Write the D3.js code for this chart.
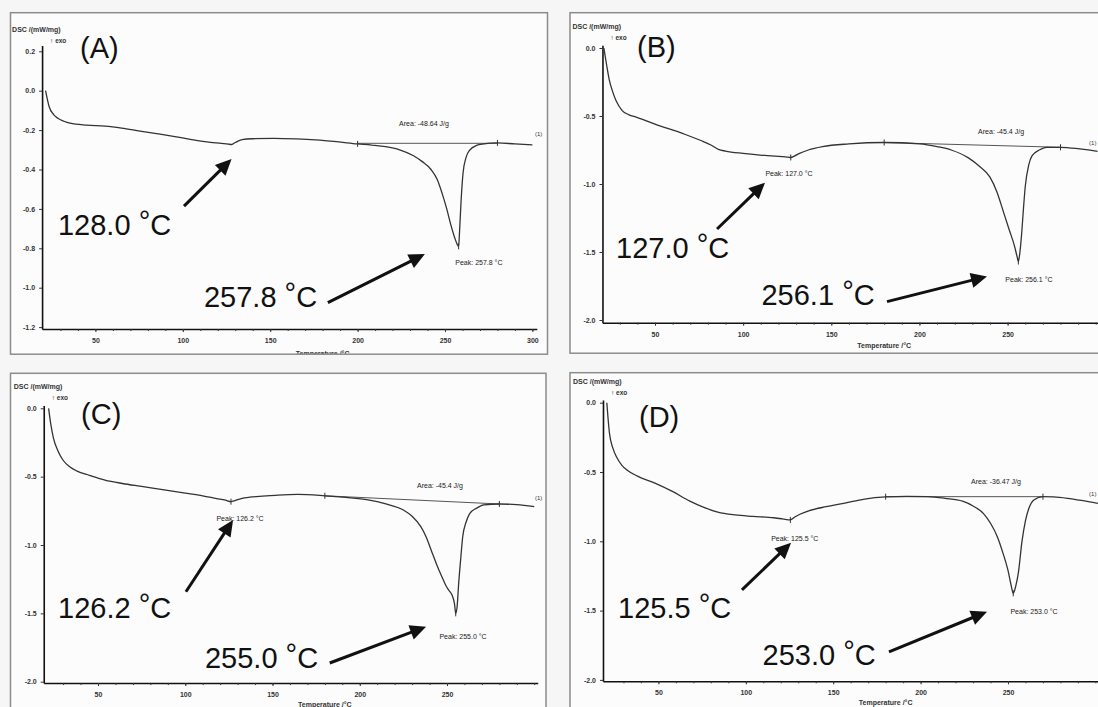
<!DOCTYPE html>
<html>
<head>
<meta charset="utf-8">
<script src="https://cdn.jsdelivr.net/npm/d3@7"></script>
<style>
  body { margin: 0; background: #f6f6f6; }
  svg { display: block; }
  text { font-family: "Liberation Sans", Arial, sans-serif; }
</style>
</head>
<body>
<svg id="chart" width="1098" height="707"></svg>
<script>
// ---- data ----
const tempA = [21.5, 23.5, 26, 28.5, 32, 35.5, 45, 55.5, 65, 75.5, 85, 95.5, 105, 115.8, 122, 126, 128, 130, 133.9, 140, 152, 165, 176, 188, 200, 208, 216, 224, 232, 237, 242, 245.5, 248.3, 251, 253.3, 255.5, 257, 257.8, 258.3, 259.2, 260.3, 262, 264.3, 268, 272.4, 276, 280, 290, 300];
const dscA = [0.0, -0.08, -0.12, -0.14, -0.155, -0.165, -0.175, -0.18, -0.19, -0.205, -0.218, -0.233, -0.248, -0.262, -0.267, -0.271, -0.273, -0.263, -0.248, -0.244, -0.242, -0.245, -0.25, -0.259, -0.27, -0.276, -0.284, -0.3, -0.33, -0.36, -0.4, -0.45, -0.52, -0.6, -0.68, -0.745, -0.78, -0.79, -0.72, -0.56, -0.42, -0.34, -0.3, -0.278, -0.27, -0.266, -0.265, -0.27, -0.275];

const tempB = [21, 22.5, 24, 25.7, 28, 31.4, 35, 39.7, 50, 66, 76, 82, 86, 90, 100, 109.6, 118, 124, 127, 129, 132, 137, 145, 160, 180, 200, 210, 218, 228, 234, 240, 244, 248, 251, 254, 255.3, 256.1, 257, 258, 259, 260, 262, 264, 268, 272, 280, 290, 301];
const dscB = [0.0, -0.12, -0.23, -0.31, -0.39, -0.46, -0.49, -0.51, -0.56, -0.63, -0.68, -0.715, -0.745, -0.758, -0.775, -0.787, -0.795, -0.8, -0.805, -0.795, -0.775, -0.75, -0.725, -0.705, -0.695, -0.705, -0.725, -0.75, -0.81, -0.87, -0.95, -1.06, -1.22, -1.34, -1.46, -1.53, -1.57, -1.5, -1.36, -1.18, -1.02, -0.86, -0.79, -0.75, -0.73, -0.73, -0.74, -0.76];

const tempC = [21.7, 23, 24.5, 27, 30, 34, 38, 45, 54, 64, 74, 87, 100, 110, 118, 123, 126.2, 128.5, 132, 137, 142.6, 153, 164.6, 180, 192, 204.7, 215, 225, 230, 235, 238, 241, 244, 247, 249.5, 251, 253, 254.3, 255, 255.8, 256.7, 258, 259, 261, 263, 267, 271, 280, 290, 300];
const dscC = [0.0, -0.12, -0.22, -0.31, -0.38, -0.43, -0.46, -0.49, -0.525, -0.55, -0.57, -0.595, -0.62, -0.64, -0.66, -0.672, -0.683, -0.675, -0.66, -0.65, -0.645, -0.635, -0.63, -0.64, -0.652, -0.67, -0.7, -0.744, -0.79, -0.866, -0.94, -1.04, -1.14, -1.23, -1.3, -1.33, -1.37, -1.43, -1.5, -1.45, -1.28, -1.08, -0.94, -0.83, -0.77, -0.73, -0.707, -0.7, -0.705, -0.72];

const tempD = [20.5, 22, 24, 26, 29, 32, 38, 48, 58, 68, 76, 84, 94, 104, 116, 121, 125.5, 128, 131, 136, 146, 156, 168, 180, 192, 204, 214, 224, 230, 236, 240, 244, 247, 250, 252, 253, 254.5, 256, 258, 260, 262, 265, 270, 276, 284, 292, 301.5];
const dscD = [0.0, -0.22, -0.33, -0.39, -0.45, -0.485, -0.53, -0.58, -0.64, -0.71, -0.755, -0.79, -0.81, -0.82, -0.83, -0.838, -0.846, -0.825, -0.805, -0.78, -0.75, -0.726, -0.695, -0.68, -0.676, -0.678, -0.69, -0.71, -0.745, -0.8, -0.87, -0.97, -1.08, -1.21, -1.33, -1.375, -1.32, -1.22, -1.0, -0.85, -0.76, -0.7, -0.678, -0.68, -0.69, -0.705, -0.726];

const xTicksA = [50, 100, 150, 200, 250, 300];
const xTicksBCD = [50, 100, 150, 200, 250];
const yTicksA = [0.2, 0.0, -0.2, -0.4, -0.6, -0.8, -1.0, -1.2];
const yTicksBCD = [0.0, -0.5, -1.0, -1.5, -2.0];

// marker points [T, DSC] and integration baselines
const markersA = [[200, -0.27], [257.8, -0.79], [280, -0.265]];
const markersB = [[127, -0.805], [180, -0.695], [256.1, -1.57], [280, -0.73]];
const markersC = [[126.2, -0.683], [180, -0.64], [255, -1.5], [280, -0.7]];
const markersD = [[125.5, -0.846], [180, -0.678], [253, -1.375], [270, -0.678]];
const baseA = [[200, -0.267], [280, -0.267]];
const baseB = [[180, -0.695], [280, -0.73]];
const baseC = [[180, -0.64], [280, -0.7]];
const baseD = [[180, -0.678], [270, -0.678]];

const bigPeaksA = [128.0, 257.8];
const bigPeaksB = [127.0, 256.1];
const bigPeaksC = [126.2, 255.0];
const bigPeaksD = [125.5, 253.0];
const smallPeaksA = [257.8];
const smallPeaksB = [127.0, 256.1];
const smallPeaksC = [126.2, 255.0];
const smallPeaksD = [125.5, 253.0];
const areaA = -48.64, areaB = -45.4, areaC = -45.4, areaD = -36.47;

// ---- layout (pixel calibration and annotation anchors in data units) ----
const panels = [
  { id: "A", letter: "(A)", temp: tempA, dsc: dscA, xTicks: xTicksA, yTicks: yTicksA,
    markers: markersA, base: baseA, big: bigPeaksA, small: smallPeaksA, area: areaA,
    frame: [10.5, 12.7, 537, 341.5], x50: 95.4, x250: 445, y0: 90.7, yLow: [-1.2, 327.1],
    tSpan: [19.5, 302.5], vSpan: [-1.21, 0.23], titleDy: 27,
    pos: { letter: [41.2, 0.166], big: [[28.6, -0.733], [112.1, -1.098]],
      arrows: [[[100.7, -0.586], [127.9, -0.347]], [[183, -1.076], [238.5, -0.829]]],
      area: [238, -0.18], small: [[269.4, -0.885]], end: [301.5, -0.23] } },
  { id: "B", letter: "(B)", temp: tempB, dsc: dscB, xTicks: xTicksBCD, yTicks: yTicksBCD,
    markers: markersB, base: baseB, big: bigPeaksB, small: smallPeaksB, area: areaB,
    frame: [570, 12.7, 540, 340.5], x50: 655, x250: 1007.6, y0: 48, yLow: [-2, 320],
    tSpan: [20.2, 306], vSpan: [-2.02, 0.02], titleDy: 25,
    pos: { letter: [39.8, -0.066], big: [[27.9, -1.544], [110.4, -1.89]],
      arrows: [[[85.2, -1.331], [112.4, -0.99]], [[181.6, -1.865], [238.3, -1.68]]],
      area: [246.3, -0.63], small: [[126, -0.94], [262.1, -1.72]], end: [296.2, -0.71] } },
  { id: "C", letter: "(C)", temp: tempC, dsc: dscC, xTicks: xTicksBCD, yTicks: yTicksBCD,
    markers: markersC, base: baseC, big: bigPeaksC, small: smallPeaksC, area: areaC,
    frame: [10.5, 373.3, 535.5, 340], x50: 98, x250: 447, y0: 408.3, yLow: [-2, 681.7],
    tSpan: [18.9, 302], vSpan: [-2.01, 0.02], titleDy: 24,
    pos: { letter: [40.3, -0.115], big: [[27.1, -1.535], [111.3, -1.903]],
      arrows: [[[100.4, -1.342], [127.4, -0.817]], [[182.8, -1.863], [238, -1.598]]],
      area: [246, -0.585], small: [[131.4, -0.825], [259.2, -1.69]], end: [300.4, -0.67] } },
  { id: "D", letter: "(D)", temp: tempD, dsc: dscD, xTicks: xTicksBCD, yTicks: yTicksBCD,
    markers: markersD, base: baseD, big: bigPeaksD, small: smallPeaksD, area: areaD,
    frame: [570, 372.7, 540, 340], x50: 658.4, x250: 1008, y0: 402.7, yLow: [-2, 679.9],
    tSpan: [18.3, 306], vSpan: [-2.01, 0.02], titleDy: 24,
    pos: { letter: [38.9, -0.176], big: [[26.9, -1.553], [109.6, -1.893]],
      arrows: [[[97.8, -1.351], [125.9, -1.01]], [[181.9, -1.797], [238, -1.508]]],
      area: [243.1, -0.585], small: [[128, -1.0], [264.9, -1.525]], end: [296.4, -0.67] } }
];

const svg = d3.select("#chart");
svg.append("rect").attr("width", 1098).attr("height", 707).attr("fill", "#f6f6f6");

const fmtY = (v) => d3.format(".1f")(v).replace("\u2212", "-");

panels.forEach(drawPanel);

function drawPanel(p) {
  const refX = d3.scaleLinear().domain([50, 250]).range([p.x50, p.x250]);
  const refY = d3.scaleLinear().domain([0, p.yLow[0]]).range([p.y0, p.yLow[1]]);
  const x = d3.scaleLinear().domain(p.tSpan).range(p.tSpan.map(refX));
  const y = d3.scaleLinear().domain(p.vSpan).range(p.vSpan.map(refY));
  const [fx, fy, fw, fh] = p.frame;

  svg.append("clipPath").attr("id", "clip" + p.id)
    .append("rect").attr("x", fx).attr("y", fy).attr("width", fw).attr("height", fh);

  svg.append("rect")
    .attr("x", fx).attr("y", fy).attr("width", fw).attr("height", fh)
    .attr("fill", "#fcfcfc");

  const g = svg.append("g").attr("clip-path", "url(#clip" + p.id + ")");

  // axes
  const axisY = y(p.vSpan[0]);
  const gx = g.append("g")
    .attr("transform", "translate(0," + axisY + ")")
    .call(d3.axisBottom(x).tickValues(p.xTicks).tickSize(3).tickSizeOuter(0)
      .tickPadding(6).tickFormat(d3.format("d")));
  g.append("g")
    .attr("transform", "translate(0," + axisY + ")")
    .call(d3.axisBottom(x).tickValues(d3.range(30, p.tSpan[1], 10)).tickSize(2)
      .tickSizeOuter(0).tickFormat(""))
    .select(".domain").remove();

  const gy = g.append("g")
    .attr("transform", "translate(" + x(p.tSpan[0]) + ",0)")
    .call(d3.axisLeft(y).tickValues(p.yTicks).tickSize(3).tickSizeOuter(0)
      .tickPadding(4).tickFormat(fmtY));

  [gx, gy].forEach((a) => {
    a.select(".domain").attr("stroke", "#111").attr("stroke-width", 1.6);
    a.selectAll("text").attr("font-size", 7).attr("font-weight", "bold")
      .attr("fill", "#333").attr("font-family", "Liberation Sans, Arial, sans-serif");
  });
  g.selectAll(".tick line").attr("stroke", "#333");

  const x0 = x(p.tSpan[0]);
  const yTop = y(p.yTicks[0]);
  g.append("text").attr("x", x0 - 30).attr("y", yTop - 19)
    .attr("font-size", 7).attr("font-weight", "bold").attr("fill", "#333")
    .text("DSC /(mW/mg)");
  g.append("text").attr("x", x0 + 8).attr("y", yTop - 8)
    .attr("font-size", 6.5).attr("font-weight", "bold").attr("fill", "#333")
    .text("\u2191 exo");
  g.append("text").attr("x", x(180)).attr("y", axisY + p.titleDy)
    .attr("text-anchor", "middle")
    .attr("font-size", 7).attr("font-weight", "bold").attr("fill", "#333")
    .text("Temperature /\u00b0C");

  // integration baseline
  g.append("line")
    .attr("x1", x(p.base[0][0])).attr("y1", y(p.base[0][1]))
    .attr("x2", x(p.base[1][0])).attr("y2", y(p.base[1][1]))
    .attr("stroke", "#555").attr("stroke-width", 1);

  // curve
  const line = d3.line().x((d) => x(d[0])).y((d) => y(d[1])).curve(d3.curveMonotoneX);
  g.append("path")
    .datum(d3.zip(p.temp, p.dsc))
    .attr("d", line)
    .attr("fill", "none").attr("stroke", "#333").attr("stroke-width", 1.3);

  // markers
  g.selectAll(".mk").data(p.markers).enter().append("line")
    .attr("x1", (d) => x(d[0])).attr("x2", (d) => x(d[0]))
    .attr("y1", (d) => y(d[1]) - 3).attr("y2", (d) => y(d[1]) + 3)
    .attr("stroke", "#333").attr("stroke-width", 1);

  // small annotations
  g.append("text").attr("x", x(p.pos.area[0])).attr("y", y(p.pos.area[1]))
    .attr("text-anchor", "middle").attr("font-size", 7).attr("fill", "#1a1a1a")
    .text("Area: " + p.area + " J/g");
  p.small.forEach((v, i) => {
    g.append("text").attr("x", x(p.pos.small[i][0])).attr("y", y(p.pos.small[i][1]))
      .attr("text-anchor", "middle").attr("font-size", 7).attr("fill", "#1a1a1a")
      .text("Peak: " + v.toFixed(1) + " \u00b0C");
  });
  g.append("text").attr("x", x(p.pos.end[0])).attr("y", y(p.pos.end[1]))
    .attr("font-size", 6).attr("fill", "#333").text("(1)");

  // panel letter
  g.append("text").attr("x", x(p.pos.letter[0])).attr("y", y(p.pos.letter[1]))
    .attr("font-size", 29).attr("fill", "#111").text(p.letter);

  // big peak labels
  p.big.forEach((v, i) => {
    const t = g.append("text").attr("x", x(p.pos.big[i][0])).attr("y", y(p.pos.big[i][1]))
      .attr("font-size", 29).attr("fill", "#111");
    t.append("tspan").text(v.toFixed(1) + " ");
    t.append("tspan").attr("dy", -4).text("\u00b0");
    t.append("tspan").attr("dy", 4).text("C");
  });

  // arrows
  p.pos.arrows.forEach((a) => {
    const x1 = x(a[0][0]), y1 = y(a[0][1]), x2 = x(a[1][0]), y2 = y(a[1][1]);
    const ang = Math.atan2(y2 - y1, x2 - x1);
    const hl = 16, hw = 7.5;
    const bx = x2 - hl * Math.cos(ang), by = y2 - hl * Math.sin(ang);
    g.append("line")
      .attr("x1", x1).attr("y1", y1).attr("x2", bx + 2 * Math.cos(ang)).attr("y2", by + 2 * Math.sin(ang))
      .attr("stroke", "#111").attr("stroke-width", 3);
    const nx = -Math.sin(ang), ny = Math.cos(ang);
    g.append("path")
      .attr("d", "M" + x2 + "," + y2 +
        "L" + (bx + nx * hw) + "," + (by + ny * hw) +
        "L" + (bx - nx * hw) + "," + (by - ny * hw) + "Z")
      .attr("fill", "#111");
  });

  // frame
  svg.append("rect")
    .attr("x", fx).attr("y", fy).attr("width", fw).attr("height", fh)
    .attr("fill", "none").attr("stroke", "#8c8c8c").attr("stroke-width", 1.5);
}
</script>
</body>
</html>
